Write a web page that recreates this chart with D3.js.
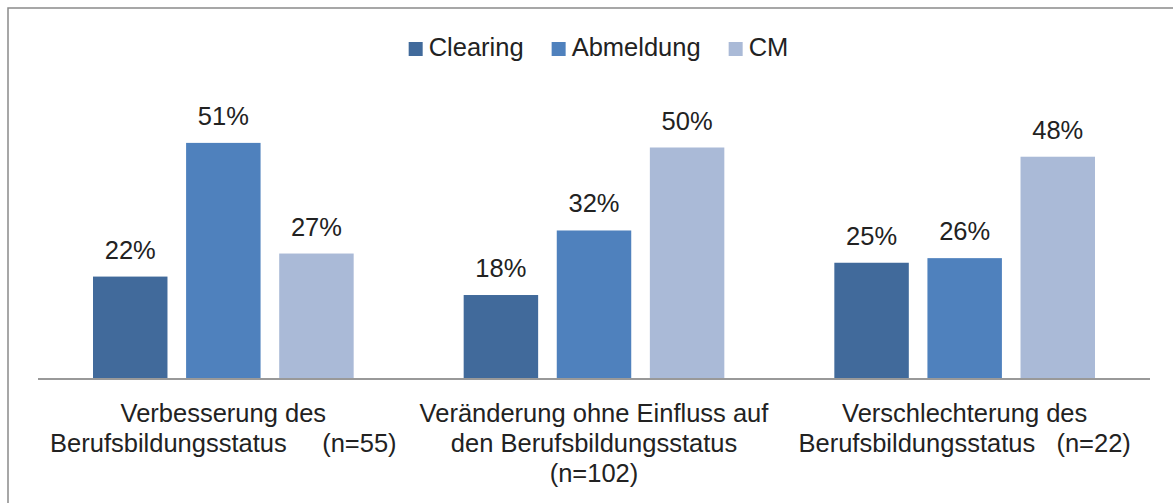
<!DOCTYPE html>
<html>
<head>
<meta charset="utf-8">
<script src="https://cdn.jsdelivr.net/npm/d3@7"></script>
<style>
  body { margin: 0; background: #fff; }
  svg text { font-family: "Liberation Sans", Arial, sans-serif; fill: #222; }
</style>
</head>
<body>
<div id="chart"></div>
<script>
// chart data
const categories = ['Verbesserung', 'Veraenderung', 'Verschlechterung'];
const categoryLines = [
  ['Verbesserung des', 'Berufsbildungsstatus     (n=55)'],
  ['Veränderung ohne Einfluss auf', 'den Berufsbildungsstatus', '(n=102)'],
  ['Verschlechterung des', 'Berufsbildungsstatus   (n=22)']
];
const seriesNames = ['Clearing', 'Abmeldung', 'CM'];
const clearing = [22, 18, 25];
const abmeldung = [51, 32, 26];
const cm = [27, 50, 48];
const colors = ['#416a9b', '#4f81bd', '#aabad7'];

const width = 1173, height = 503;
const plot = { left: 38, right: 1150, top: 102, bottom: 378 };
const fs = '25.5px';

const svg = d3.select('#chart').append('svg')
  .attr('width', width)
  .attr('height', height);

// outer frame
svg.append('rect')
  .attr('x', 8).attr('y', 8)
  .attr('width', 1300).attr('height', 700)
  .attr('fill', 'none')
  .attr('stroke', '#8a8a8a')
  .attr('stroke-width', 1.5);

const series = [clearing, abmeldung, cm];
const rows = categories.map((c, i) => ({ cat: c, values: series.map(s => s[i]) }));

const x0 = d3.scaleBand()
  .domain(categories)
  .range([plot.left, plot.right])
  .paddingInner(0)
  .paddingOuter(0);

const x1 = d3.scaleBand()
  .domain(seriesNames)
  .range([55, x0.bandwidth() - 55])
  .paddingInner(0.2)
  .paddingOuter(0);

const y = d3.scaleLinear()
  .domain([0, 60])
  .range([plot.bottom, plot.bottom - 60 * 4.61]);

const groups = svg.selectAll('g.grp')
  .data(rows)
  .enter()
  .append('g')
  .attr('class', 'grp')
  .attr('transform', d => `translate(${x0(d.cat)},0)`);

groups.selectAll('rect')
  .data(d => d.values.map((v, j) => ({ name: seriesNames[j], v: v, j: j })))
  .enter()
  .append('rect')
  .attr('x', d => x1(d.name))
  .attr('y', d => y(d.v))
  .attr('width', x1.bandwidth())
  .attr('height', d => plot.bottom - y(d.v))
  .attr('fill', d => colors[d.j]);

groups.selectAll('text.val')
  .data(d => d.values.map((v, j) => ({ name: seriesNames[j], v: v })))
  .enter()
  .append('text')
  .attr('class', 'val')
  .attr('x', d => x1(d.name) + x1.bandwidth() / 2)
  .attr('y', d => y(d.v) - 18)
  .attr('text-anchor', 'middle')
  .style('font-size', fs)
  .text(d => d.v + '%');

// x axis line
svg.append('line')
  .attr('x1', plot.left).attr('x2', plot.right)
  .attr('y1', plot.bottom + 1).attr('y2', plot.bottom + 1)
  .attr('stroke', '#999')
  .attr('stroke-width', 2);

// category labels
categories.forEach((c, i) => {
  const cx = x0(c) + x0.bandwidth() / 2;
  const t = svg.append('text')
    .attr('text-anchor', 'middle')
    .attr('xml:space', 'preserve')
    .style('white-space', 'pre')
    .style('font-size', fs);
  categoryLines[i].forEach((line, k) => {
    t.append('tspan')
      .attr('x', cx)
      .attr('y', 422 + k * 30)
      .text(line);
  });
});

// legend
const legend = svg.append('g');
let lx = 0;
seriesNames.forEach((name, i) => {
  const g = legend.append('g').attr('transform', `translate(${lx},0)`);
  g.append('rect')
    .attr('x', 0).attr('y', -14)
    .attr('width', 14).attr('height', 14)
    .attr('fill', colors[i]);
  const t = g.append('text')
    .attr('x', 20).attr('y', 0)
    .style('font-size', fs)
    .text(name);
  lx += 20 + t.node().getComputedTextLength() + 28;
});
const lw = lx - 28;
legend.attr('transform', `translate(${(width - lw) / 2 + 12},56)`);
</script>
</body>
</html>
